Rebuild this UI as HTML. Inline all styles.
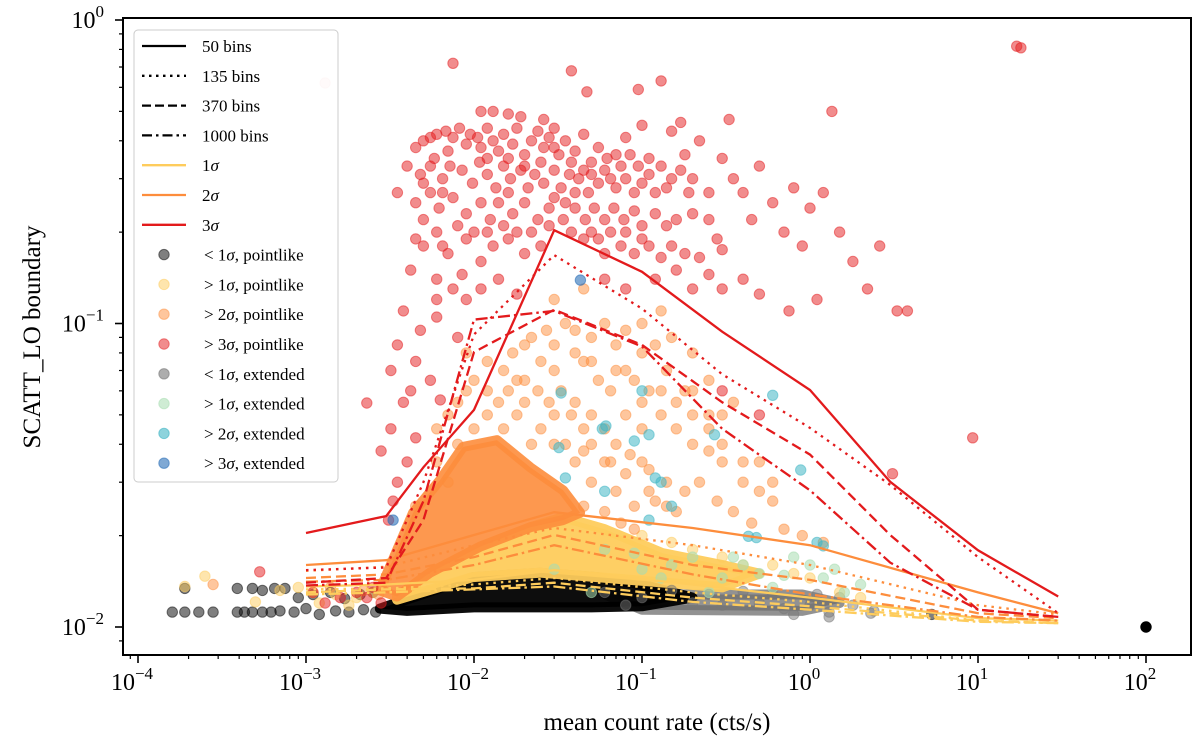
<!DOCTYPE html>
<html><head><meta charset="utf-8"><style>
html,body{margin:0;padding:0;background:#fff;}
svg{display:block;font-family:"Liberation Serif",serif;}
</style></head><body>
<svg id="chart" width="1200" height="746" viewBox="0 0 1200 746" xmlns="http://www.w3.org/2000/svg">
<defs><clipPath id="plotclip"><rect x="123" y="18" width="1068" height="637"/></clipPath></defs>
<rect x="0" y="0" width="1200" height="746" fill="#fff"/>
<g id="clouds" clip-path="url(#plotclip)"></g>
<g id="points" clip-path="url(#plotclip)"></g>
<g id="lines" clip-path="url(#plotclip)"></g>
<g id="axes"></g>
<text x="657" y="730" font-size="25" text-anchor="middle">mean count rate (cts/s)</text>
<text transform="translate(40,337) rotate(-90)" font-size="25" text-anchor="middle">SCATT_LO boundary</text>
<g id="legend"></g>
</svg>
<script>
// ---- data ----
const lineX = [0.001,0.003,0.005,0.01,0.03,0.1,0.3,1,3,10,30];
const red50 = [0.0204,0.0232,0.0336,0.0519,0.203,0.148,0.094,0.0604,0.0301,0.0179,0.0126];
const red135 = [0.0154,0.0157,0.030,0.092,0.168,0.112,0.068,0.0453,0.0294,0.017,0.0111];
const red370 = [0.0140,0.0145,0.0225,0.0805,0.111,0.085,0.055,0.037,0.0201,0.0114,0.0108];
const red1000 = [0.0137,0.0140,0.026,0.103,0.110,0.084,0.045,0.0282,0.0163,0.0114,0.0108];
const sigX = [0.001,0.003,0.01,0.03,0.2,1,10,30];
const org50 = [0.0160,0.0166,0.0201,0.0239,0.0212,0.0186,0.0130,0.0111];
const org135 = [0.0153,0.0158,0.0186,0.0212,0.0186,0.0160,0.0118,0.0110];
const org370 = [0.0145,0.0149,0.0170,0.0201,0.0160,0.0143,0.0111,0.0107];
const org1000 = [0.0141,0.0143,0.0160,0.0186,0.0149,0.0128,0.0108,0.0105];
const yel50 = [0.0136,0.0138,0.0143,0.0154,0.0138,0.0125,0.0107,0.0105];
const yel135 = [0.0133,0.0134,0.0138,0.0145,0.0130,0.0121,0.0105,0.0103];
const yel370 = [0.0130,0.0133,0.0134,0.0140,0.0125,0.0117,0.0105,0.0103];
const yel1000 = [0.0128,0.0130,0.0133,0.0136,0.0121,0.0114,0.0104,0.0103];

const orangeCloudX = [0.00275,0.00434,0.00628,0.0086,0.0137,0.0216,0.0339,0.0428,0.0339,0.0216,0.0109,0.00547,0.00348];
const orangeCloudY = [0.0132,0.0238,0.0305,0.0392,0.0413,0.0336,0.0282,0.0238,0.0225,0.0213,0.0184,0.0151,0.0126];
const yellowCloudX = [0.00348,0.00547,0.0109,0.0216,0.0339,0.06,0.133,0.3,0.5,0.3,0.054,0.0247,0.00987,0.00348];
const yellowCloudY = [0.0126,0.0151,0.0184,0.0213,0.023,0.021,0.0175,0.016,0.015,0.0135,0.0146,0.0151,0.0146,0.0123];
const blackCloudX = [0.00275,0.00987,0.0247,0.054,0.1,0.2,0.1,0.05,0.01,0.004];
const blackCloudY = [0.0115,0.0146,0.0151,0.0146,0.0138,0.0125,0.0117,0.0116,0.0116,0.0113];
const greyCloudX = [0.06,0.3,0.9,1.5,0.9,0.1];
const greyCloudY = [0.0128,0.0128,0.0128,0.012,0.0113,0.0114];

const redPts = [[0.0075,0.72],[0.038,0.68],[0.13,0.63],[0.095,0.59],[0.047,0.58],[1.35,0.50],[0.33,0.47],[0.17,0.46],
[0.011,0.50],[0.013,0.50],[0.016,0.49],[0.019,0.48],[0.026,0.47],[0.03,0.44],
[0.0045,0.38],[0.005,0.40],[0.0055,0.41],[0.006,0.42],[0.0068,0.43],[0.0075,0.41],[0.0082,0.44],[0.009,0.39],[0.0095,0.42],[0.0105,0.41],[0.011,0.38],[0.012,0.44],[0.013,0.40],[0.014,0.37],[0.015,0.42],[0.017,0.39],[0.018,0.44],[0.02,0.36],[0.022,0.40],[0.024,0.43],[0.026,0.38],[0.028,0.41],[0.032,0.36],[0.035,0.40],[0.04,0.37],[0.045,0.42],[0.05,0.34],[0.055,0.38],[0.062,0.35],
[0.004,0.33],[0.0048,0.31],[0.0058,0.35],[0.0065,0.30],[0.0072,0.33],[0.0085,0.32],[0.0098,0.29],[0.0108,0.34],[0.012,0.31],[0.0135,0.28],[0.015,0.33],[0.0165,0.30],[0.019,0.32],[0.021,0.28],[0.023,0.31],[0.026,0.29],[0.03,0.32],[0.033,0.28],[0.037,0.31],[0.042,0.30],[0.048,0.27],[0.055,0.29],[0.06,0.32],[0.07,0.28],[0.08,0.30],[0.09,0.27],[0.1,0.29],[0.11,0.31],[0.12,0.27],[0.14,0.28],
[0.0035,0.27],[0.0045,0.25],[0.0055,0.27],[0.0062,0.24],[0.0075,0.26],[0.009,0.23],[0.011,0.25],[0.0125,0.22],[0.014,0.25],[0.017,0.23],[0.02,0.25],[0.024,0.22],[0.028,0.24],[0.034,0.22],[0.04,0.24],[0.046,0.22],[0.052,0.24],[0.06,0.22],[0.068,0.24],[0.078,0.22],[0.09,0.235],[0.1,0.21],[0.12,0.23],[0.14,0.21],[0.16,0.22],[0.2,0.23],[0.25,0.22],
[0.0045,0.19],[0.005,0.18],[0.0065,0.18],[0.007,0.17],[0.009,0.19],[0.011,0.16],[0.013,0.18],[0.016,0.19],[0.02,0.17],[0.025,0.18],[0.06,0.17],[0.075,0.18],[0.09,0.17],[0.11,0.18],[0.13,0.165],[0.15,0.18],[0.18,0.17],[0.22,0.165],[0.28,0.19],[0.3,0.175],
[0.0042,0.15],[0.006,0.14],[0.0075,0.13],[0.0085,0.145],[0.011,0.13],[0.014,0.14],[0.018,0.125],[0.06,0.14],[0.08,0.13],[0.12,0.14],[0.16,0.15],[0.2,0.13],[0.25,0.145],[0.3,0.13],[0.4,0.14],[0.5,0.125],
[0.0038,0.11],[0.0048,0.095],[0.006,0.105],[0.008,0.09],[0.0035,0.085],[0.0045,0.075],[0.0055,0.065],[0.0042,0.06],[0.0023,0.0547],[0.0038,0.055],[0.0063,0.056],[0.0032,0.045],[0.0045,0.042],[0.004,0.035],[0.0035,0.03],[0.0033,0.026],[0.0031,0.0225],
[0.3,0.35],[0.35,0.3],[0.4,0.27],[0.5,0.33],[0.6,0.25],[0.45,0.22],[0.7,0.2],[0.8,0.28],[1.0,0.24],[1.2,0.27],[0.9,0.18],[1.5,0.2],[1.8,0.16],[2.6,0.18],[2.2,0.13],[3.3,0.11],[3.8,0.11],[1.1,0.12],[0.75,0.11],[0.25,0.27],[0.2,0.3],[0.18,0.36],[0.22,0.4],[0.15,0.43],[0.1,0.45],[0.08,0.41],[0.07,0.36],
[9.3,0.042],[3.1,0.032],[17,0.82],[18,0.81],[0.3,0.06],[0.5,0.05],
[0.005,0.22],[0.006,0.2],[0.008,0.21],[0.01,0.2],[0.012,0.2],[0.015,0.21],[0.018,0.2],[0.035,0.25],[0.038,0.2],[0.045,0.19],[0.05,0.2],[0.055,0.19],[0.065,0.2],[0.08,0.2],[0.1,0.19],[0.045,0.32],[0.05,0.31],[0.065,0.3],[0.075,0.33],[0.085,0.36],[0.095,0.33],[0.11,0.35],[0.13,0.33],[0.15,0.3],[0.17,0.32],[0.19,0.27],[0.012,0.35],[0.016,0.35],[0.02,0.33],[0.025,0.34],[0.03,0.38],[0.038,0.34],[0.007,0.37],[0.0055,0.33],[0.005,0.29],[0.0065,0.27],[0.016,0.27],[0.03,0.26],[0.04,0.27],[0.022,0.2],[0.028,0.21],[0.006,0.12],[0.009,0.12],[0.0032,0.07],[0.0028,0.038],
[0.00053,0.0152],[0.0011,0.013],[0.0013,0.012],[0.0016,0.0125],[0.002,0.013],[0.0025,0.0135],[0.0028,0.012],[0.0023,0.0125]];
const faintRedPts = [[0.0013,0.62]];
const orangePts = [[0.03,0.12],[0.035,0.1],[0.04,0.095],[0.05,0.09],[0.06,0.1],[0.07,0.085],[0.08,0.095],[0.1,0.08],[0.12,0.085],[0.15,0.09],[0.02,0.085],[0.025,0.075],[0.015,0.07],[0.018,0.065],[0.03,0.07],[0.045,0.075],[0.055,0.065],[0.07,0.07],[0.09,0.065],[0.11,0.06],[0.14,0.07],[0.18,0.06],[0.2,0.08],[0.25,0.065],[0.3,0.05],[0.35,0.055],[0.02,0.055],[0.03,0.05],[0.04,0.055],[0.05,0.05],[0.06,0.045],[0.08,0.05],[0.1,0.045],[0.13,0.05],[0.16,0.045],[0.2,0.04],[0.25,0.038],[0.3,0.035],[0.4,0.03],[0.5,0.028],[0.6,0.026],[0.01,0.045],[0.012,0.05],[0.008,0.04],[0.015,0.045],[0.022,0.04],[0.035,0.04],[0.045,0.038],[0.065,0.035],[0.085,0.037],[0.11,0.033],[0.14,0.03],[0.18,0.028],[0.22,0.03],[0.28,0.026],[0.35,0.024],[0.45,0.022],[0.7,0.021],[0.9,0.02],[1.2,0.019],[0.006,0.035],[0.007,0.03],[0.0045,0.025],[0.05,0.03],[0.07,0.028],[0.09,0.025],[0.12,0.026],[0.16,0.024],[0.1,0.1],[0.13,0.11],[0.045,0.13],[0.2,0.05],[0.25,0.05],[0.00028,0.0138],[0.0014,0.0135],[0.0022,0.0132],[0.0027,0.0128],
[0.006,0.045],[0.007,0.05],[0.008,0.055],[0.009,0.06],[0.01,0.065],[0.012,0.06],[0.014,0.055],[0.016,0.06],[0.018,0.05],[0.02,0.065],[0.024,0.06],[0.028,0.055],[0.033,0.06],[0.038,0.05],[0.045,0.045],[0.025,0.045],[0.03,0.04],[0.04,0.035],[0.05,0.04],[0.06,0.035],[0.07,0.04],[0.08,0.032],[0.1,0.035],[0.009,0.08],[0.012,0.075],[0.017,0.08],[0.022,0.09],[0.027,0.095],[0.03,0.085],[0.04,0.08],[0.05,0.075],[0.065,0.06],[0.08,0.07],[0.1,0.055],[0.13,0.06],[0.16,0.055],[0.2,0.06],[0.25,0.045],[0.3,0.04],[0.4,0.035],[0.5,0.035],[0.6,0.03],[0.045,0.025],[0.06,0.024],[0.075,0.022],[0.09,0.021],[0.11,0.028],[0.14,0.025]];
const yellowPts = [[0.1,0.02],[0.15,0.019],[0.2,0.018],[0.3,0.017],[0.4,0.016],[0.6,0.016],[0.8,0.015],[1,0.0145],[1.5,0.013],[2,0.0125],[0.00019,0.0136],[0.00025,0.0147],[0.0011,0.013],[0.0015,0.0128],[0.002,0.0125],[0.0025,0.013],[0.0012,0.012],[0.0018,0.0118],[0.0007,0.0132],[0.0009,0.0135],[0.0005,0.0121]];
const blackPts = [[1.6e-4,0.0112],[1.9e-4,0.0112],[2.3e-4,0.0112],[2.8e-4,0.0112],[1.9e-4,0.0134],[3.9e-4,0.0112],[4.3e-4,0.0112],[4.8e-4,0.0112],[5.5e-4,0.0112],[6.2e-4,0.0112],[3.9e-4,0.0134],[4.8e-4,0.0134],[5.5e-4,0.0132],[6.5e-4,0.0134],[7.5e-4,0.0134],[8.5e-4,0.0112],[1e-3,0.0115],[1.2e-3,0.011],[1.5e-3,0.0113],[1.8e-3,0.0112],[2.2e-3,0.0114],[2.6e-3,0.0112],[1.1e-3,0.0128],[1.4e-3,0.013],[1.7e-3,0.0124],[2.1e-3,0.0128],[2.5e-3,0.013],[9e-4,0.0125],[7e-4,0.0113],[5.3,0.011]];
const solidBlackPts = [[100,0.01]];
const greyPts = [[0.1,0.0125],[0.2,0.012],[0.3,0.0118],[0.5,0.012],[0.7,0.0115],[1,0.0118],[1.3,0.0112],[1.5,0.0125],[2.3,0.0111],[2.4,0.0113],[1.3,0.0108],[0.8,0.011],[0.06,0.013],[0.08,0.0118],[0.15,0.0132],[0.25,0.0128],[0.4,0.0131],[0.6,0.0128],[1.1,0.0128],[1.8,0.0118]];
const greenPts = [[0.06,0.018],[0.1,0.0155],[0.15,0.016],[0.2,0.017],[0.3,0.0145],[0.4,0.016],[0.5,0.015],[0.6,0.0135],[0.8,0.017],[1,0.016],[1.2,0.0145],[1.6,0.013],[2,0.0138],[0.03,0.0155],[0.05,0.013],[0.25,0.013],[0.09,0.0175],[0.13,0.0145],[0.35,0.017],[0.7,0.0148],[1.4,0.0155]];
const tealPts = [[0.033,0.059],[0.058,0.045],[0.061,0.046],[0.09,0.041],[0.1,0.06],[0.11,0.043],[0.27,0.043],[0.6,0.058],[0.032,0.039],[0.035,0.031],[0.12,0.031],[0.13,0.03],[0.06,0.028],[0.11,0.0225],[0.48,0.0197],[0.88,0.0329],[0.43,0.0199],[1.1,0.019],[1.2,0.0185],[0.15,0.025]];
const bluePts = [[0.043,0.139],[0.0033,0.0225]];
const xTickExps = [-4,-3,-2,-1,0,1,2];
const yTickExps = [0,-1,-2];

// ---- scales ----
const X0=138, XD=168, Y0=627, YD=303.5;
function sx(v){return X0+XD*(Math.log10(v)+4);}
function sy(v){return Y0-YD*(Math.log10(v)+2);}
const NS="http://www.w3.org/2000/svg";
function mk(tag,attrs,parent){const e=document.createElementNS(NS,tag);for(const k in attrs)e.setAttribute(k,attrs[k]);parent.appendChild(e);return e;}

const RED="#e31a1c",ORG="#fd8d3c",YEL="#fecc5c";
const clouds=document.getElementById('clouds');
function cloud(xs,ys,col,op,name){
  const p=xs.map((x,i)=>sx(x).toFixed(1)+','+sy(ys[i]).toFixed(1)).join(' ');
  const e=mk('polygon',{points:p,fill:col,stroke:col,'stroke-width':10,'stroke-linejoin':'round','fill-opacity':op,'stroke-opacity':op},clouds);
  
  
}
const pts=document.getElementById('points');
function scatter(arr,col,op,name){
  arr.forEach(d=>{
    const c=mk('circle',{cx:sx(d[0]).toFixed(1),cy:sy(d[1]).toFixed(1),r:5.2,fill:col,'fill-opacity':op,stroke:col,'stroke-opacity':op,'stroke-width':1},pts);
    
    
  });
}
scatter(blackPts,"#000",0.5,'point-lt1-pointlike');
cloud(greyCloudX,greyCloudY,"#6e6e6e",0.75,'cloud-lt1-extended');
cloud(blackCloudX,blackCloudY,"#000",0.95,'cloud-lt1-pointlike');
scatter(greyPts,"#777",0.5,'point-lt1-extended');
cloud(yellowCloudX,yellowCloudY,YEL,0.95,'cloud-gt1-pointlike');
scatter(yellowPts,YEL,0.5,'point-gt1-pointlike');
scatter(greenPts,"#a8dcb0",0.55,'point-gt1-extended');
scatter(orangePts,ORG,0.5,'point-gt2-pointlike');
cloud(orangeCloudX,orangeCloudY,ORG,0.9,'cloud-gt2-pointlike');
scatter(redPts,RED,0.5,'point-gt3-pointlike');
scatter(faintRedPts,RED,0.15,'point-gt3-pointlike');
scatter(tealPts,"#41b6c4",0.55,'point-gt2-extended');
scatter(bluePts,"#2c6fb8",0.6,'point-gt3-extended');
scatter(solidBlackPts,"#000",1,'point-lt1-pointlike');

const lines=document.getElementById('lines');
const dashes={s:'',d:'2.5,5',k:'10,5',dd:'12,4,2.5,4'};
function line(xs,ys,col,style,name){
  const p=xs.map((x,i)=>sx(x).toFixed(1)+','+sy(ys[i]).toFixed(1)).join(' ');
  const a={points:p,fill:'none',stroke:col,'stroke-width':2.3};
  if(dashes[style])a['stroke-dasharray']=dashes[style];
  const e=mk('polyline',a,lines);
  
  
}
line(sigX,yel50,YEL,'s','line-1sigma-50');line(sigX,yel135,YEL,'d','line-1sigma-135');
line(sigX,yel370,YEL,'k','line-1sigma-370');line(sigX,yel1000,YEL,'dd','line-1sigma-1000');
line(sigX,org50,ORG,'s','line-2sigma-50');line(sigX,org135,ORG,'d','line-2sigma-135');
line(sigX,org370,ORG,'k','line-2sigma-370');line(sigX,org1000,ORG,'dd','line-2sigma-1000');
line(lineX,red50,RED,'s','line-3sigma-50');line(lineX,red135,RED,'d','line-3sigma-135');
line(lineX,red370,RED,'k','line-3sigma-370');line(lineX,red1000,RED,'dd','line-3sigma-1000');

const ax=document.getElementById('axes');
mk('rect',{x:123,y:18,width:1068,height:637,fill:'none',stroke:'#000','stroke-width':2},ax);
xTickExps.forEach(k=>{
  const x=sx(Math.pow(10,k));
  mk('line',{x1:x,y1:655,x2:x,y2:663,stroke:'#000','stroke-width':1.6},ax);
  const t=mk('text',{x:x-6,y:690,'font-size':24,'text-anchor':'middle'},ax);
  
  
  t.textContent='10';
  const s=mk('tspan',{dy:-11,'font-size':17},t);s.textContent=(k<0?'\u2212':'')+Math.abs(k);
  for(let m=2;m<=9;m++){const v=m*Math.pow(10,k);const xx=sx(v);if(xx>123&&xx<1191)mk('line',{x1:xx,y1:655,x2:xx,y2:659,stroke:'#000','stroke-width':1.2},ax);}
});
for(let m=2;m<=9;m++){const xx=sx(m*1e-5);if(xx>123)mk('line',{x1:xx,y1:655,x2:xx,y2:659,stroke:'#000','stroke-width':1.2},ax);}
yTickExps.forEach(k=>{
  const y=sy(Math.pow(10,k));
  mk('line',{x1:115,y1:y,x2:123,y2:y,stroke:'#000','stroke-width':1.6},ax);
  const t=mk('text',{x:104,y:y+8,'font-size':24,'text-anchor':'end'},ax);
  
  
  t.textContent='10';
  const s=mk('tspan',{dy:-11,'font-size':17},t);s.textContent=(k<0?'\u2212':'')+Math.abs(k);
});
[-3,-2,-1].forEach(k=>{for(let m=2;m<=9;m++){const yy=sy(m*Math.pow(10,k));if(yy>18&&yy<655)mk('line',{x1:119,y1:yy,x2:123,y2:yy,stroke:'#000','stroke-width':1.2},ax);}});

const lg=document.getElementById('legend');
mk('rect',{x:134,y:30,width:204,height:452,rx:4,fill:'#fff','fill-opacity':0.85,stroke:'#ccc','stroke-width':1},lg);
const legLines=[['50 bins','#000','s'],['135 bins','#000','d'],['370 bins','#000','k'],['1000 bins','#000','dd'],['1σ',YEL,'s'],['2σ',ORG,'s'],['3σ',RED,'s']];
const legPts=[['< 1σ, pointlike','#000',0.5],['> 1σ, pointlike',YEL,0.5],['> 2σ, pointlike',ORG,0.5],['> 3σ, pointlike',RED,0.5],['< 1σ, extended','#777',0.6],['> 1σ, extended','#a8dcb0',0.55],['> 2σ, extended','#41b6c4',0.6],['> 3σ, extended','#2c6fb8',0.6]];
let ly=46;
legLines.forEach(l=>{
  const g=mk('g',{},lg);
  
  
  const a={x1:142,y1:ly,x2:186,y2:ly,stroke:l[1],'stroke-width':2.3};
  if(dashes[l[2]])a['stroke-dasharray']=l[2]==='d'?'2.5,4.5':l[2]==='k'?'9,4':'10,4,2.5,4';
  mk('line',a,g);
  const t=mk('text',{x:202,y:ly+6,'font-size':17},g);
  if(l[0].endsWith('σ')){t.textContent=l[0][0];const s=mk('tspan',{'font-style':'italic'},t);s.textContent='σ';}
  else t.textContent=l[0];
  ly+=29.8;
});
legPts.forEach(l=>{
  const g=mk('g',{},lg);
  
  
  mk('circle',{cx:164,cy:ly,r:5.2,fill:l[1],'fill-opacity':l[2],stroke:l[1],'stroke-opacity':l[2]},g);
  const t=mk('text',{x:204,y:ly+6,'font-size':17},g);
  const parts=l[0].split('σ');
  t.textContent=parts[0];const s=mk('tspan',{'font-style':'italic'},t);s.textContent='σ';
  const r=mk('tspan',{},t);r.textContent=parts[1];
  ly+=29.8;
});
</script>
</body></html>
